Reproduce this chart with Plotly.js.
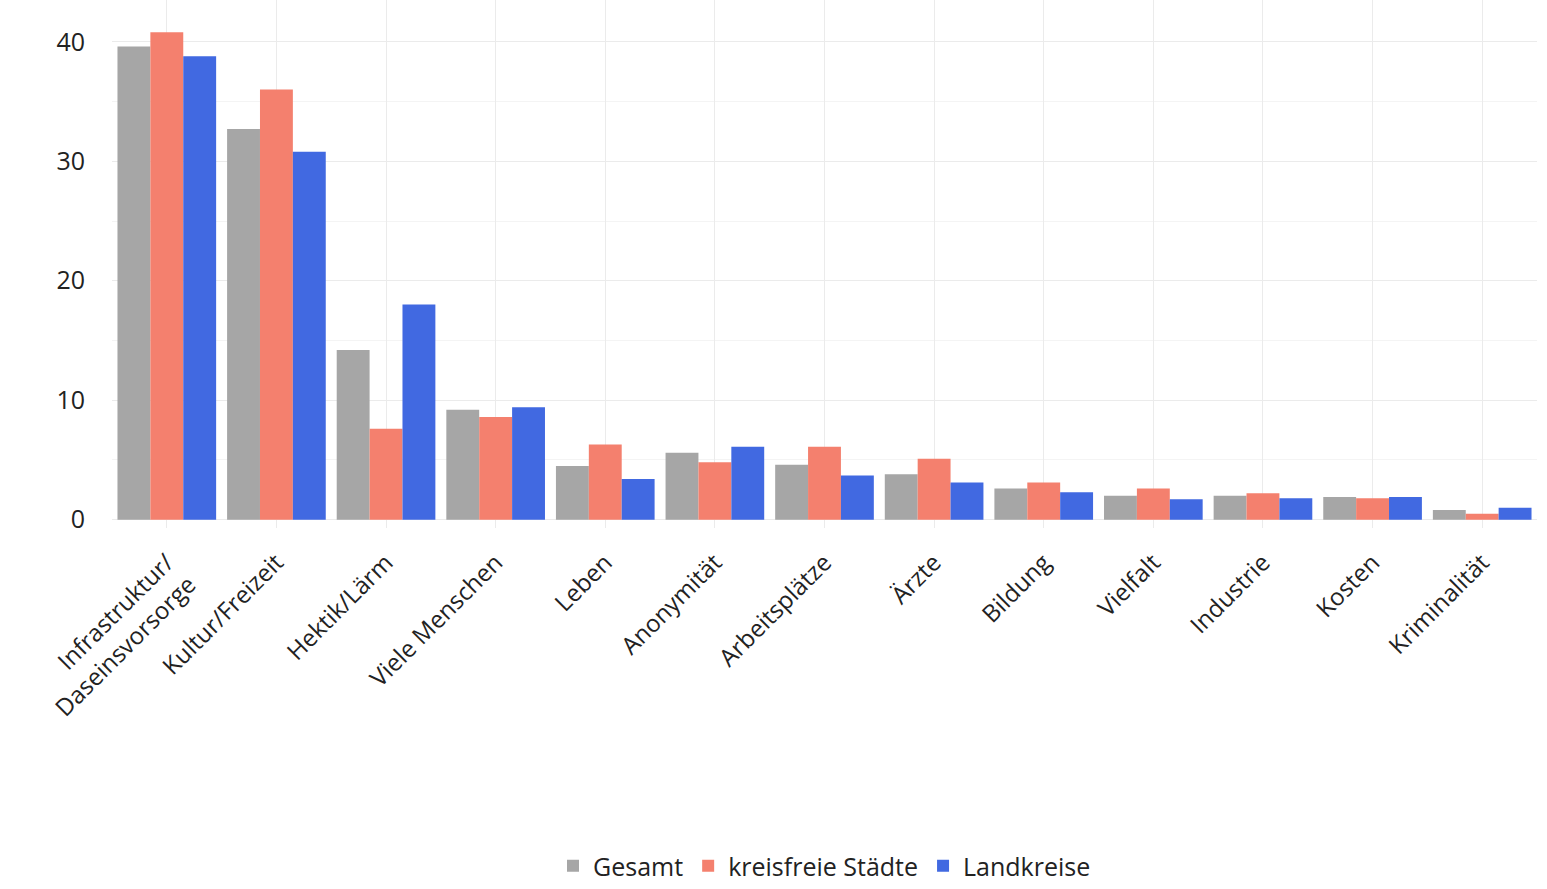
<!DOCTYPE html>
<html>
<head>
<meta charset="utf-8">
<script src="https://cdn.plot.ly/plotly-3.0.1.min.js"></script>
<style>html,body{margin:0;padding:0;background:#fff}#chart{width:1547px;height:889px}</style>
</head>
<body>
<div id="chart"></div>
<script>
const categories = ["Infrastruktur/<br>Daseinsvorsorge", "Kultur/Freizeit", "Hektik/Lärm", "Viele Menschen",
  "Leben", "Anonymität", "Arbeitsplätze", "Ärzte", "Bildung", "Vielfalt", "Industrie", "Kosten", "Kriminalität"];
const gesamt = [39.6, 32.7, 14.2, 9.2, 4.5, 5.6, 4.6, 3.8, 2.6, 2.0, 2.0, 1.9, 0.8];
const staedte = [40.8, 36.0, 7.6, 8.6, 6.3, 4.8, 6.1, 5.1, 3.1, 2.6, 2.2, 1.8, 0.5];
const landkreise = [38.8, 30.8, 18.0, 9.4, 3.4, 6.1, 3.7, 3.1, 2.3, 1.7, 1.8, 1.9, 1.0];

const series = [
  { name: "Gesamt", y: gesamt, color: "#a6a6a6" },
  { name: "kreisfreie Städte", y: staedte, color: "#f4806e" },
  { name: "Landkreise", y: landkreise, color: "#4169e1" },
];

const traces = series.map((s) => ({
  type: "bar",
  x: categories,
  y: s.y,
  name: s.name,
  marker: { color: s.color },
  hoverinfo: "x+y+name",
}));

const layout = {
  width: 1547,
  height: 889,
  margin: { t: 0, r: 10, b: 361, l: 112, autoexpand: false },
  paper_bgcolor: "#ffffff",
  plot_bgcolor: "#ffffff",
  font: { family: "'Open Sans', 'Noto Sans', sans-serif", size: 24, color: "#222" },
  barmode: "group",
  bargap: 0.1,
  bargroupgap: 0,
  xaxis: {
    tickangle: -45,
    showgrid: true,
    gridcolor: "#ebebeb",
    tickfont: { size: 24, color: "#222" },
    ticks: "outside",
    ticklen: 10,
    tickcolor: "rgba(0,0,0,0)",
    automargin: false,
  },
  yaxis: {
    range: [-0.7, 43.5],
    tickvals: [0, 10, 20, 30, 40],
    showgrid: true,
    gridcolor: "#ebebeb",
    zeroline: false,
    tickfont: { size: 25, color: "#222" },
    ticklabelstandoff: 26,
    minor: { tickvals: [5, 15, 25, 35], showgrid: true, gridcolor: "#f4f4f4" },
  },
  legend: {
    orientation: "h",
    x: 0.5,
    xanchor: "center",
    yref: "container",
    y: 0.0,
    yanchor: "bottom",
    font: { size: 25, color: "#222" },
  },
};

Plotly.newPlot("chart", traces, layout, { displayModeBar: false });
</script>
</body>
</html>
